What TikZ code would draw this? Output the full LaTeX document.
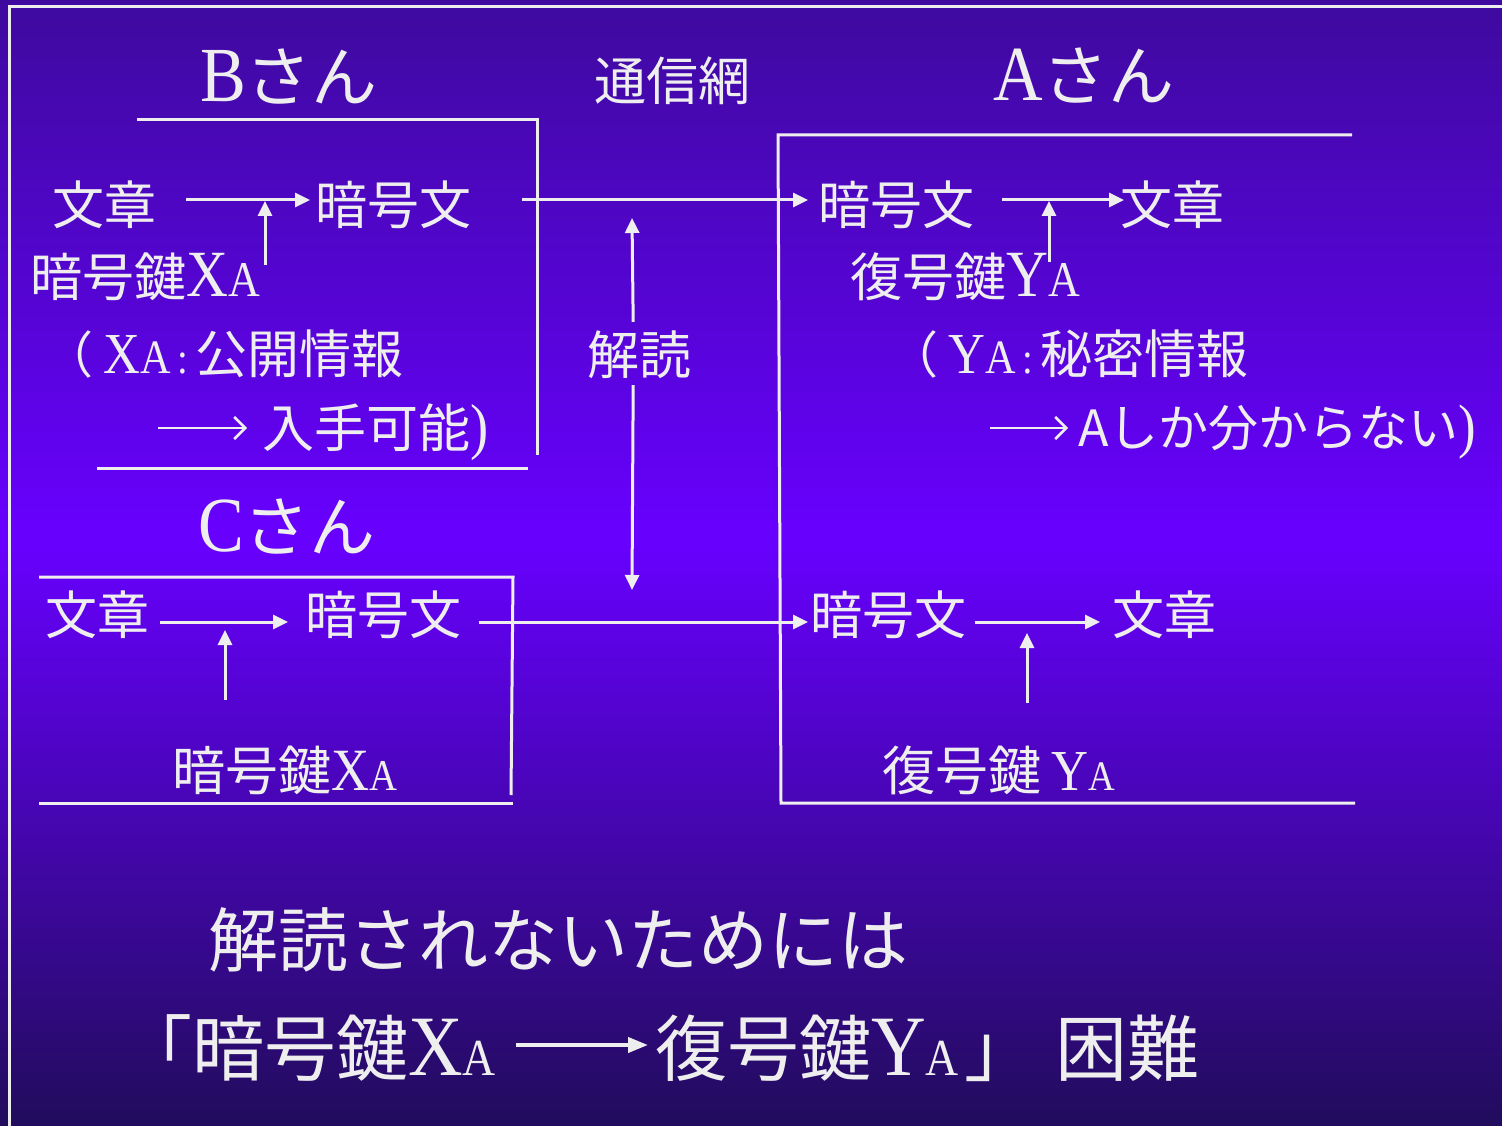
\documentclass[tikz,border=0pt]{standalone}
\usepackage{fontspec}
\usepackage{graphicx}
\setmainfont{Noto Sans CJK JP}
\newfontfamily\lat[FakeStretch=0.88]{Liberation Serif}
\usetikzlibrary{arrows.meta,calc}
\definecolor{fg}{RGB}{238,238,238}
\definecolor{bgtop}{RGB}{62,10,158}
\definecolor{bgmid}{RGB}{104,0,255}
\definecolor{bgbot}{RGB}{33,12,92}
\newcommand\fs[1]{\fontsize{#1}{#1}\selectfont}
\newcommand\keyname[3]{{\lat\fs{#2}#1\fs{#3}A}}
\tikzset{
  t/.style={anchor=west, inner sep=0pt, text=fg},
  frame/.style={draw=fg, line width=3pt},
  arr/.style={draw=fg, line width=3pt, -{Triangle[length=15pt,width=14pt]}},
  thinarr/.style={draw=fg, line width=2.5pt, -{Straight Barb[length=11pt,width=22pt,line width=2.5pt]}},
  bigarr/.style={draw=fg, line width=4pt, -{Triangle[length=20pt,width=15pt]}}
}
\begin{document}
\begin{tikzpicture}[x=1pt,y=-1pt]
\useasboundingbox (0,0) rectangle (1502,1126);
\shade[top color=bgtop, bottom color=bgmid] (0,0) rectangle (1502,540);
\shade[top color=bgmid, bottom color=bgbot] (0,539) rectangle (1502,1126);

% frames
\draw[frame] (9,1126) -- (9,7) -- (1502,7);
\draw[frame] (137,120) -- (537,120) -- (537,455);
\draw[frame] (97,468) -- (528,468);
\draw[frame] (1352,135) -- (778,135) -- (781,803) -- (1355,803);
\draw[frame] (39,577) -- (513,577) -- (511,795);
\draw[frame] (39,803) -- (513,803);

% titles
\node[t] (nB) at (200,77) {{\lat\fs{78}B}{\fs{66}さん}};
\node[t] (nNet) at (594,81) {\fs{52}通信網};
\node[t] (nA) at (993,76) {{\lat\fs{78}A}{\fs{66}さん}};
\node[t] (nC) at (198,527) {{\lat\fs{78}C}{\fs{66}さん}};

% row B -> A
\node[t] (b1) at (52,205) {\fs{52}文章};
\node[t] (b2) at (315,205) {\fs{52}暗号文};
\node[t] (a1) at (818,205) {\fs{52}暗号文};
\node[t] (a2) at (1120,205) {\fs{52}文章};
\node[t] (bk) at (30,277) {\fs{52}暗号鍵\keyname{X}{66}{50}};
\node[t] (ak) at (850,277) {\fs{52}復号鍵\keyname{Y}{66}{50}};
\node[t] (bp) at (43,354) {\fs{50}（\hspace{10pt}{\lat\fs{58}X\fs{48}A\fs{44}\,:\,}\fs{52}公開情報};
\node[t] (bp2) at (262,432) {\fs{52}入手可能{\lat\fs{62})}};
\node[t] (ap) at (888,354) {\fs{50}（\hspace{10pt}{\lat\fs{58}Y\fs{48}A\fs{44}\,:\,}\fs{52}秘密情報};
\node[t] (ap2) at (1078,432) {\fs{50}Aしか分からない{\lat\fs{60})}};
\node[t] (dec) at (587,355) {\fs{52}解読};

\coordinate (kB) at (265,265);
\coordinate (kA) at (1049,262);
\coordinate (pB1) at (158,428);
\coordinate (pB2) at (247,428);
\coordinate (pA1) at (990,428);
\coordinate (pA2) at (1068,428);
\coordinate (dUp) at (632,218);
\coordinate (dDn) at (632,590);

\draw[arr, shorten <=30pt, shorten >=5pt] ([yshift=5pt]b1.east) -- ([yshift=5pt]b2.west);
\draw[arr, shorten <=51pt, shorten >=10pt] ([yshift=5pt]b2.east) -- ([yshift=5pt]a1.west);
\draw[arr, shorten <=28pt, shorten >=-4pt] ([yshift=5pt]a1.east) -- ([yshift=5pt]a2.west);
\draw[arr] (kB) -- ($(kB |- b1.east)+(0,-4)$);
\draw[arr] (kA) -- ($(kA |- a1.east)+(0,-4)$);
\draw[thinarr] (pB1) -- (pB2);
\draw[thinarr] (pA1) -- (pA2);
\draw[arr] ([xshift=-6pt,yshift=9pt]dec.north) -- (dUp);
\draw[arr] ([xshift=-6pt,yshift=-6pt]dec.south) -- (dDn);

% row C -> A
\node[t] (c1) at (45,615) {\fs{52}文章};
\node[t] (c2) at (305,615) {\fs{52}暗号文};
\node[t] (a3) at (810,615) {\fs{52}暗号文};
\node[t] (a4) at (1112,615) {\fs{52}文章};
\node[t] (ck) at (172,770) {\fs{53}暗号鍵\keyname{X}{60}{44}};
\node[t] (ak2) at (882,770) {\fs{53}復号鍵\hspace{10pt}\keyname{Y}{58}{42}};
\coordinate (kC) at (225,700);
\coordinate (kA2) at (1027,703);
\draw[arr, shorten <=11pt, shorten >=17pt] ([yshift=-7pt]c1.east) -- ([yshift=-7pt]c2.west);
\draw[arr, shorten <=18pt, shorten >=2pt] ([yshift=-7pt]c2.east) -- ([yshift=-7pt]a3.west);
\draw[arr, shorten <=9pt, shorten >=12pt] ([yshift=-7pt]a3.east) -- ([yshift=-7pt]a4.west);
\draw[arr, shorten >=15pt] (kC) -- (kC |- c1.east);
\draw[arr, shorten >=18pt] (kA2) -- (kA2 |- a3.east);

% bottom statement
\node[t] (q1) at (208,940) {\fs{70}解読されないためには};
\node[t] (q2) at (120,1048) {\fs{72}「暗号鍵{\lat\fs{86}X\fs{52}A}};
\node[t] (q3) at (655,1048) {\fs{72}復号鍵{\lat\fs{86}Y\fs{52}A}\hspace{6pt}」};
\node[t] (q4) at (1055,1048) {\fs{72}困難};
\draw[bigarr, shorten <=20pt, shorten >=7pt] ([yshift=3pt]q2.east) -- ([yshift=3pt]q3.west);
\end{tikzpicture}
\end{document}
